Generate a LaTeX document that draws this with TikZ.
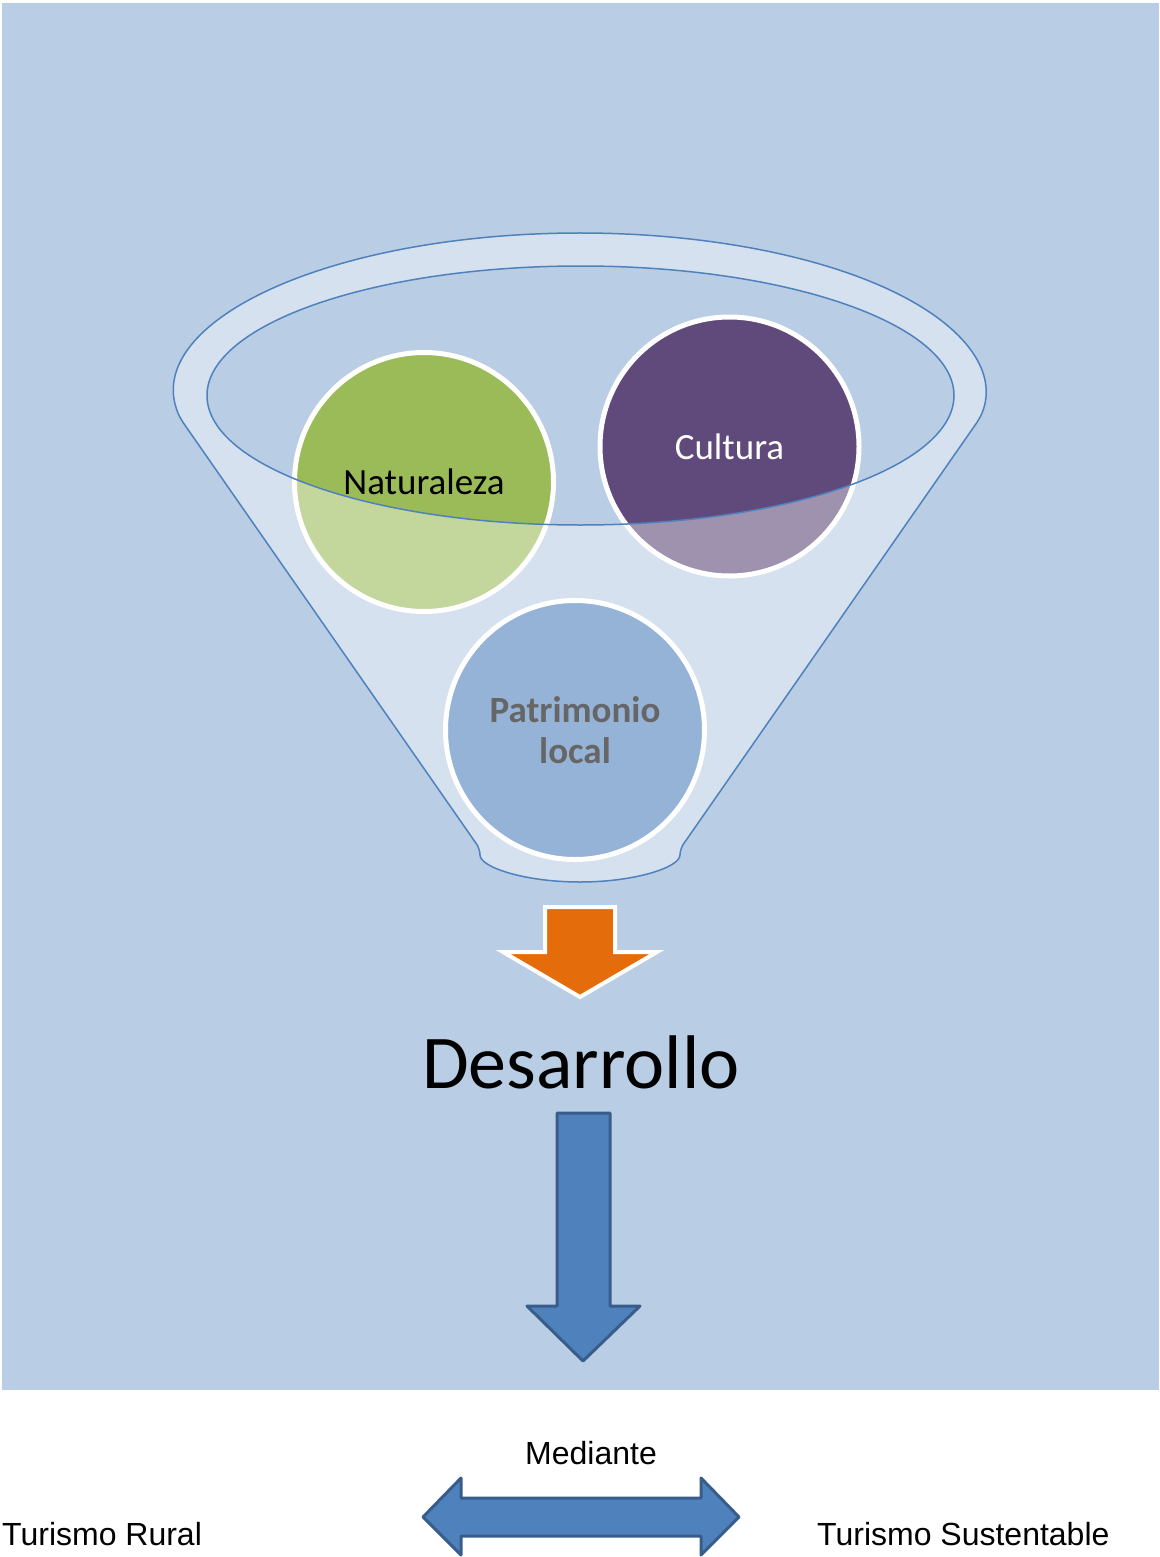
\documentclass[tikz,border=0pt]{standalone}
\usepackage{fontspec}
\setmainfont{Carlito}
\newfontfamily\arialfont{Liberation Sans}
\usepackage{xcolor}
\usepackage{tikz}
\usetikzlibrary{positioning,calc}

\definecolor{bgblue}{HTML}{B9CDE5}
\definecolor{funline}{HTML}{4F81BD}
\definecolor{natgreen}{HTML}{9BBB59}
\definecolor{cultpurple}{HTML}{604A7B}
\definecolor{patrblue}{HTML}{95B3D7}
\definecolor{patrtext}{HTML}{666666}
\definecolor{arrorange}{HTML}{E46C0A}
\definecolor{arrblue}{HTML}{4F81BD}
\definecolor{arrborder}{HTML}{385D8A}

\begin{document}
\begin{tikzpicture}[
  x=1pt, y=1pt,
  bubble/.style={circle, draw=white, line width=5pt, minimum size=259pt, inner sep=0pt, align=center, font=\fontsize{37}{41}\selectfont},
  rim/.style={draw=funline, line width=1.5pt},
  blockarr/.style={fill=arrblue, draw=arrborder, line width=3pt, line join=round},
  lbl/.style={font=\arialfont\fontsize{32}{38}\selectfont},
]

%------------------- Background -------------------
\useasboundingbox (0,0) rectangle (1159,-1557);
\fill[white] (0,0) rectangle (1159,-1557);
\fill[bgblue] (2,-3) rectangle (1159,-1390);

%------------------- Circles behind the funnel -------------------
\node (nat) [bubble, fill=natgreen] at (424,-482) {Naturaleza};
\node (cult) [bubble, fill=cultpurple, text=white] at (729.5,-446.5) {Cultura};

%------------------- Funnel -------------------
\coordinate (rimc) at (580,-393);
\coordinate (topc) at (580.5,-395.5);
\coordinate (neckc) at (580,-849);
% translucent body, mouth left open
\path[rim, fill=white, fill opacity=0.4, even odd rule, rounded corners=6pt]
  ([shift={(189:405 and 160)}]rimc) arc[start angle=189, end angle=-9, x radius=405, y radius=160]
  -- ([xshift=100]neckc) arc[start angle=0, end angle=-180, x radius=100, y radius=33] -- cycle
  (topc) ellipse [x radius=373.5, y radius=129.5];

% circle in front of the funnel
\node (patr) [bubble, fill=patrblue, text=patrtext, font=\bfseries\fontsize{37}{41}\selectfont] at (575,-730) {Patrimonio\\local};

%------------------- Arrows and labels -------------------
\draw[fill=arrorange, draw=white, line width=4pt]
  (545,-907) -- (615,-907) -- (615,-952) -- (657,-952) -- (580,-997) -- (503,-952) -- (545,-952) -- cycle;

\node (des) [anchor=base, font=\fontsize{76}{90}\selectfont] at (581,-1088) {Desarrollo};

\draw[blockarr]
  (557,-1113) -- (610,-1113) -- (610,-1306) -- (640,-1306) -- (583,-1361) -- (527,-1306) -- (557,-1306) -- cycle;

\node (mediante) [lbl, anchor=base] at (591,-1464) {Mediante};
\node (rural) [lbl, anchor=base west, inner sep=0pt] at (2,-1545) {Turismo Rural};
\node (sust) [lbl, anchor=base west, inner sep=0pt] at (817,-1545) {Turismo Sustentable};

\draw[blockarr]
  (423,-1517) -- (461,-1478) -- (461,-1498) -- (701,-1498) -- (701,-1478) -- (739,-1517)
  -- (701,-1555) -- (701,-1536) -- (461,-1536) -- (461,-1555) -- cycle;

\end{tikzpicture}
\end{document}
